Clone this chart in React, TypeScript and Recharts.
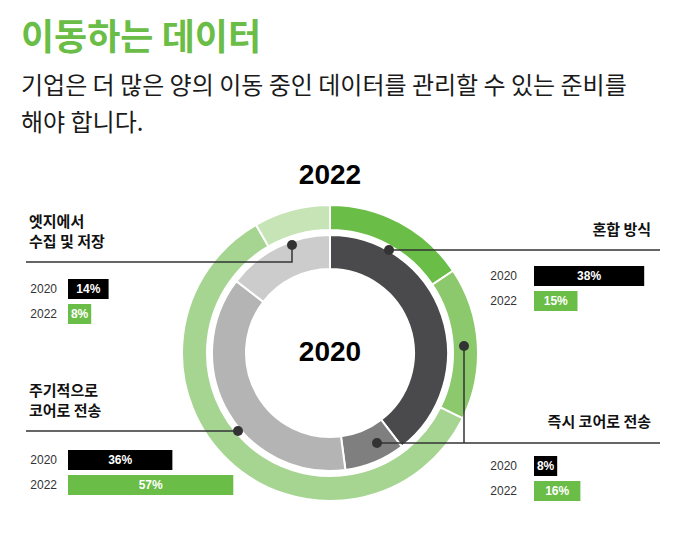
import { PieChart, Pie, Cell, BarChart, Bar, XAxis, YAxis, LabelList } from "recharts";

const categories = ["혼합 방식", "즉시 코어로 전송", "주기적으로 코어로 전송", "엣지에서 수집 및 저장"];
const years = ["2020", "2022"];
const values2020 = [38, 8, 36, 14];
const values2022 = [15, 16, 57, 8];

const grays = ["#4a4a4c", "#7f7f7f", "#b4b4b4", "#cccccc"];
const greens = ["#6abd46", "#8bc96c", "#a6d592", "#c6e4b6"];
const GREEN = "#6abd46";
const KR = "'Noto Sans CJK KR', sans-serif";
const LAT = "'Liberation Sans', Arial, sans-serif";

const CX = 330;
const CY = 353;

const inner = categories.map((name, i) => ({ name, value: values2020[i] }));
const outer = categories.map((name, i) => ({ name, value: values2022[i] }));

function BarPanel({ index, left, top, gap }: { index: number; left: number; top: number; gap: number }) {
  const data = years.map((year, k) => ({ year, value: k === 0 ? values2020[index] : values2022[index] }));
  const axisW = 60;
  return (
    <div style={{ position: "absolute", left: left - axisW, top: top - 2.5 }}>
      <BarChart
        width={axisW + 290}
        height={50}
        data={data}
        layout="vertical"
        margin={{ top: 0, right: 0, bottom: 0, left: 0 }}
      >
        <XAxis type="number" domain={[0, 100]} hide />
        <YAxis
          type="category"
          dataKey="year"
          width={axisW}
          axisLine={false}
          tickLine={false}
          tickSize={0}
          tickMargin={gap}
          tick={{ fill: "#333", fontSize: 12, fontFamily: LAT }}
        />
        <Bar dataKey="value" barSize={20} isAnimationActive={false}>
          {data.map((d, k) => (
            <Cell key={d.year} fill={k === 0 ? "#000" : GREEN} />
          ))}
          <LabelList
            dataKey="value"
            position="center"
            formatter={(v: any) => `${v}%`}
            fill="#fff"
            fontSize={12}
            fontWeight={700}
            fontFamily={LAT}
          />
        </Bar>
      </BarChart>
    </div>
  );
}

const labelStyle = {
  position: "absolute" as const,
  fontFamily: KR,
  fontWeight: 700,
  fontSize: 15,
  lineHeight: "20px",
  color: "#111",
};

export default function App() {
  return (
    <div style={{ position: "absolute", left: 0, top: 0, width: 680, height: 546, background: "#fff", overflow: "hidden" }}>
      <div style={{ position: "absolute", left: 21, top: 12, fontFamily: KR, fontSize: 36, fontWeight: 700, color: GREEN, lineHeight: "44px" }}>
        이동하는 데이터
      </div>
      <div style={{ position: "absolute", left: 21, top: 65, fontFamily: KR, fontSize: 24, color: "#1a1a1a", lineHeight: "37px" }}>
        기업은 더 많은 양의 이동 중인 데이터를 관리할 수 있는 준비를
        <br />
        해야 합니다.
      </div>

      <div style={{ position: "absolute", left: 0, top: 0 }}>
        <PieChart width={680} height={546} margin={{ top: 0, right: 0, bottom: 0, left: 0 }}>
          <Pie
            data={outer}
            dataKey="value"
            cx={CX}
            cy={CY}
            innerRadius={123}
            outerRadius={148}
            startAngle={90}
            endAngle={-270}
            stroke="#fff"
            strokeWidth={2}
            isAnimationActive={false}
          >
            {outer.map((d, i) => (
              <Cell key={d.name} fill={greens[i]} />
            ))}
          </Pie>
          <Pie
            data={inner}
            dataKey="value"
            cx={CX}
            cy={CY}
            innerRadius={84}
            outerRadius={118}
            startAngle={90}
            endAngle={-270}
            stroke="#fff"
            strokeWidth={2}
            isAnimationActive={false}
          >
            {inner.map((d, i) => (
              <Cell key={d.name} fill={grays[i]} />
            ))}
          </Pie>
        </PieChart>
      </div>

      <div style={{ position: "absolute", left: 0, width: 660, top: 159, textAlign: "center", fontFamily: LAT, fontWeight: 700, fontSize: 28, color: "#000" }}>
        {years[1]}
      </div>
      <div style={{ position: "absolute", left: 0, width: 660, top: 336, textAlign: "center", fontFamily: LAT, fontWeight: 700, fontSize: 28, color: "#000" }}>
        {years[0]}
      </div>

      <svg width={680} height={546} style={{ position: "absolute", left: 0, top: 0, pointerEvents: "none" }}>
        <g stroke="#333" strokeWidth={1.5} fill="none">
          <polyline points="26,262 292,262 292,245" />
          <line x1={389} y1={250} x2={660} y2={250} />
          <line x1={377} y1={443} x2={660} y2={443} />
          <line x1={464} y1={346} x2={464} y2={443} />
          <line x1={26} y1={431} x2={238} y2={431} />
        </g>
        <g fill="#333">
          <circle cx={292} cy={245} r={5} />
          <circle cx={389} cy={250} r={5} />
          <circle cx={377} cy={443} r={5} />
          <circle cx={464} cy={346} r={5} />
          <circle cx={238} cy={431} r={5} />
        </g>
      </svg>

      <div style={{ ...labelStyle, left: 29, top: 211 }}>
        엣지에서
        <br />
        수집 및 저장
      </div>
      <div style={{ ...labelStyle, right: 29, top: 219, textAlign: "right" }}>{categories[0]}</div>
      <div style={{ ...labelStyle, right: 29, top: 411, textAlign: "right" }}>{categories[1]}</div>
      <div style={{ ...labelStyle, left: 29, top: 380 }}>
        주기적으로
        <br />
        코어로 전송
      </div>

      <BarPanel index={3} left={68} top={278} gap={11} />
      <BarPanel index={0} left={534} top={265} gap={17} />
      <BarPanel index={1} left={534} top={455} gap={17} />
      <BarPanel index={2} left={68} top={449} gap={11} />
    </div>
  );
}
